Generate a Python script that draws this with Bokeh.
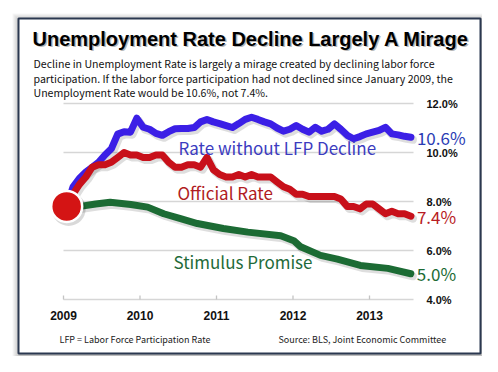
from bokeh.plotting import figure
from bokeh.models import Range1d
from bokeh.core.properties import value
from bokeh.embed import file_html
from bokeh.resources import INLINE

# ---------------- data ----------------
official_rate = [
    7.8, 8.3, 8.7, 9.0, 9.4, 9.5, 9.5, 9.6, 9.8, 10.0, 9.9, 9.9,      # 2009
    9.8, 9.8, 9.9, 9.9, 9.6, 9.4, 9.4, 9.5, 9.5, 9.4, 9.8, 9.3,       # 2010
    9.1, 9.0, 9.0, 9.1, 9.0, 9.1, 9.0, 9.0, 9.0, 8.8, 8.6, 8.5,       # 2011
    8.3, 8.3, 8.2, 8.2, 8.2, 8.2, 8.2, 8.1, 7.8, 7.8, 7.7, 7.9,       # 2012
    7.9, 7.7, 7.5, 7.6, 7.5, 7.5, 7.4,                                # 2013
]
no_lfp_decline_rate = [
    7.8, 8.6, 8.95, 9.2, 9.4, 9.6, 9.9, 10.15, 10.75, 10.85, 10.83, 11.4,
    11.03, 10.95, 10.78, 10.7, 10.85, 10.97, 10.98, 10.98, 11.02, 11.25, 11.35, 11.25,
    11.18, 11.1, 11.02, 11.18, 11.35, 11.44, 11.35, 11.25, 11.17, 11.0, 10.87, 10.95,
    11.1, 10.95, 10.83, 11.03, 10.87, 10.95, 11.17, 10.95, 10.7, 10.56, 10.65, 10.76,
    10.83, 10.9, 11.03, 10.76, 10.72, 10.66, 10.62,
]
stimulus_years = [2009.04, 2009.22, 2009.42, 2009.61, 2009.88, 2010.1, 2010.31, 2010.53,
                  2010.75, 2011.09, 2011.41, 2011.84, 2012.01, 2012.1, 2012.36, 2012.58,
                  2012.88, 2013.24, 2013.54]
stimulus_rate = [7.8, 7.8, 7.9, 7.97, 7.88, 7.77, 7.5, 7.3,
                 7.1, 6.9, 6.75, 6.6, 6.4, 6.15, 5.8, 5.65,
                 5.39, 5.27, 5.05]
month_years = [2009 + (i + 0.5) / 12 for i in range(len(official_rate))]

year_ticks = [2009, 2010, 2011, 2012, 2013]
year_labels = ["2009", "2010", "2011", "2012", "2013"]
pct_ticks = [4, 6, 8, 10, 12]
pct_labels = ["4.0%", "6.0%", "8.0%", "10.0%", "12.0%"]
series_names = ["Rate without LFP Decline", "Official Rate", "Stimulus Promise"]
end_labels = ["10.6%", "7.4%", "5.0%"]

title = "Unemployment Rate Decline Largely A Mirage"
subtitle = ["Decline in Unemployment Rate is largely a mirage created by declining labor force",
            "participation.  If the labor force participation had not declined since January 2009, the",
            "Unemployment Rate would be 10.6%, not 7.4%."]
footer_left = "LFP = Labor Force Participation Rate"
footer_right = "Source:  BLS, Joint Economic Committee"

# ---------------- layout ----------------
W, H = 482, 356
X0_PX, PX_YEAR = 63.0, 76.5      # px of Jan 2009, px per year
Y4_PX, PX_PCT = 299.0, 24.5      # px (from top) of 4 %, px per percent
X_END = 2009 + (413 - X0_PX) / PX_YEAR   # right end of grid lines

def cx(px):
    return 2009 + (px - X0_PX) / PX_YEAR

def cy(py):
    return 4 + (Y4_PX - py) / PX_PCT

NARROW = value("Noto Sans CJK JP")
ARIAL = value("Liberation Sans")

p = figure(width=W, height=H, output_backend="svg", toolbar_location=None,
           x_range=Range1d(cx(0), cx(W)), y_range=Range1d(cy(H), cy(0)),
           min_border=0, min_border_left=0, min_border_right=0,
           min_border_top=0, min_border_bottom=0)
p.axis.visible = False
p.grid.visible = False
p.outline_line_color = None
p.background_fill_color = "white"
p.border_fill_color = "white"

# frame shadow + box
for k in range(1, 9):
    p.quad(left=cx(18 - k + 2), right=cx(480 + k + 2), top=cy(18 - k + 3), bottom=cy(353 + k + 3),
           fill_color="#000000", fill_alpha=0.035, line_color=None)
p.quad(left=cx(18), right=cx(480), top=cy(18), bottom=cy(353),
       fill_color="white", line_color="#2b3850", line_width=2)

# grid lines and ticks
p.segment(x0=[2009] * len(pct_ticks), x1=[X_END] * len(pct_ticks), y0=pct_ticks, y1=pct_ticks,
          line_color="#d6d6d6", line_width=1.3)
p.segment(x0=year_ticks, x1=year_ticks, y0=[4] * 5, y1=[4 + 4 / PX_PCT] * 5,
          line_color="#c4c4c4", line_width=1.3)
p.text(x=year_ticks, y=[4] * 5, text=year_labels, y_offset=16, text_align="center",
       text_baseline="middle", text_font=ARIAL, text_font_style="bold",
       text_font_size="12px", text_color="#111111")
p.text(x=[X_END] * 5, y=pct_ticks, text=pct_labels, x_offset=13, text_align="left",
       text_baseline="middle", text_font=ARIAL, text_font_style="bold",
       text_font_size="11px", text_color="#111111")

# series lines with soft shadow
sdx, sdy = 2 / PX_YEAR, 2.5 / PX_PCT
series = [
    (month_years, no_lfp_decline_rate, "#3b1fe6"),
    (month_years, official_rate, "#c8101a"),
    (stimulus_years, stimulus_rate, "#1c6b34"),
]
for xs, ys, col in series:
    p.line([x + sdx for x in xs], [y - sdy for y in ys], line_color="#000000", line_alpha=0.13,
           line_width=8, line_join="round", line_cap="round")
for xs, ys, col in series:
    p.line(xs, ys, line_color=col, line_width=7, line_join="round", line_cap="round")

# starting point
p.scatter([month_years[0] + sdx], [official_rate[0] - sdy], size=34, fill_color="#000000",
          fill_alpha=0.15, line_color=None)
p.scatter([month_years[0]], [official_rate[0]], size=31, fill_color="#d41414",
          line_color="white", line_width=2.5)

# series names
name_colors = ["#3c3cbf", "#b01c22", "#1f6b3a"]
p.text(x=[cx(178), cx(177), cx(173)], y=[cy(147), cy(192), cy(261)], text=series_names,
       text_align="left", text_baseline="middle", text_font=NARROW, text_font_size="17px",
       text_color=name_colors)

# end labels
end_colors = ["#2a3cb4", "#b81c24", "#1c6b34"]
p.text(x=[month_years[-1], month_years[-1], stimulus_years[-1]],
       y=[no_lfp_decline_rate[-1], official_rate[-1], stimulus_rate[-1]],
       text=end_labels, x_offset=6, text_align="left", text_baseline="middle",
       text_font=NARROW, text_font_size="17px", text_color=end_colors)

# title with shadow
p.text(x=[cx(33.5)], y=[cy(39.5)], text=[title], text_align="left", text_baseline="middle",
       text_font=ARIAL, text_font_style="bold", text_font_size="20px", text_color="#888888",
       text_alpha=0.6)
p.text(x=[cx(32)], y=[cy(38)], text=[title], text_align="left", text_baseline="middle",
       text_font=ARIAL, text_font_style="bold", text_font_size="20px", text_color="#000000")

# subtitle
p.text(x=[cx(33)] * 3, y=[cy(63), cy(77.5), cy(92)], text=subtitle, text_align="left",
       text_baseline="middle", text_font=NARROW, text_font_size="10.6px", text_color="#111111")

# footer
p.text(x=[cx(59), cx(278)], y=[cy(339), cy(339)], text=[footer_left, footer_right],
       text_align="left", text_baseline="middle", text_font=NARROW, text_font_size="9px",
       text_color="#222222")

open("out.html", "w").write(file_html(p, INLINE))
